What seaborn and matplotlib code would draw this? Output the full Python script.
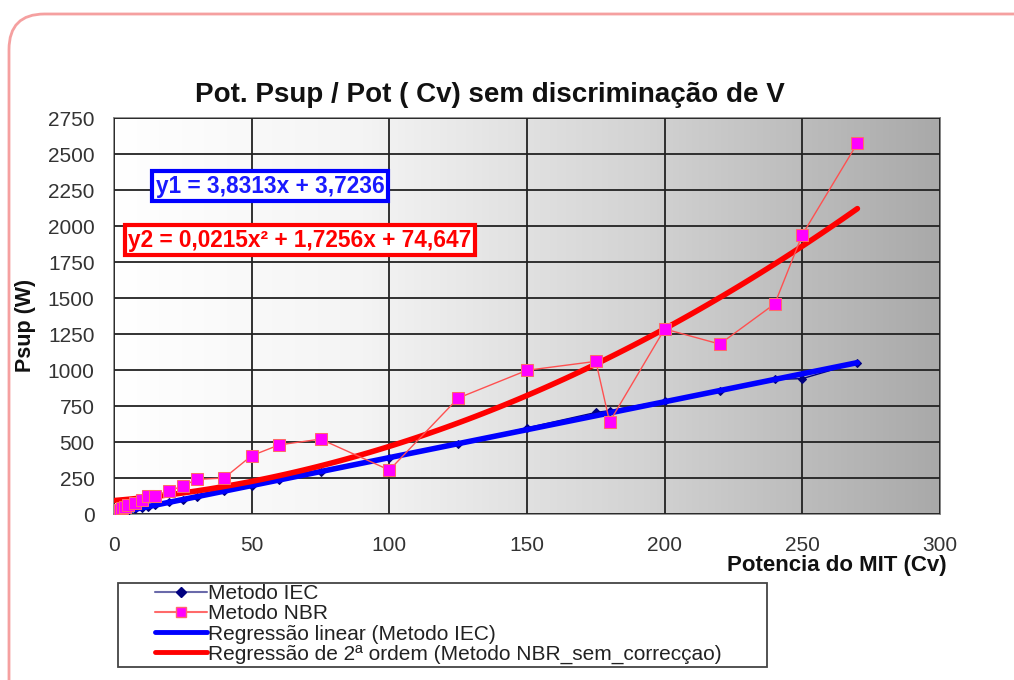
import numpy as np
import pandas as pd
import matplotlib
matplotlib.use("Agg")
import matplotlib.pyplot as plt
from matplotlib import colors
from matplotlib.lines import Line2D
from matplotlib.patches import FancyBboxPatch, Rectangle
import seaborn as sns

sns.set_style("white")
plt.rcParams["font.family"] = ["Liberation Sans", "DejaVu Sans"]

TITLE = "Pot. Psup / Pot ( Cv) sem discriminação de V"
X_LABEL = "Potencia do MIT (Cv)"
Y_LABEL = "Psup (W)"
EQ_IEC = "y1 = 3,8313x + 3,7236"
EQ_NBR = "y2 = 0,0215x² + 1,7256x + 74,647"

# potencia do motor (Cv)
potencia = [0.5, 1, 1.5, 2, 3, 4, 5, 7.5, 10, 12.5, 15, 20, 25, 30, 40, 50, 60, 75,
            100, 125, 150, 175, 180, 200, 220, 240, 250, 270]
# Psup (W) pelo metodo IEC
psup_iec = [5, 7, 9, 11, 15, 19, 23, 32, 42, 52, 61, 80, 99, 118, 157, 195, 233, 290,
            392, 487, 598, 705, 718, 787, 852, 935, 940, 1052]
# Psup (W) pelo metodo NBR
psup_nbr = [10, 18, 25, 30, 40, 50, 60, 75, 95, 128, 128, 160, 195, 240, 250, 405, 480, 520,
            305, 805, 998, 1060, 640, 1285, 1180, 1460, 1940, 2575]

X_TICKS = [0, 50, 100, 150, 200, 250, 300]
Y_TICKS = list(range(0, 2751, 250))

LEGEND_LABELS = [
    "Metodo IEC",
    "Metodo NBR",
    "Regressão linear (Metodo IEC)",
    "Regressão de 2ª ordem (Metodo NBR_sem_correcçao)",
]

df = pd.DataFrame({"potencia": potencia, "iec": psup_iec, "nbr": psup_nbr})

W, H = 1014, 680
fig = plt.figure(figsize=(W / 100, H / 100), dpi=100)
fig.patch.set_facecolor("white")

# rounded pink frame round the chart
fig.patches.append(FancyBboxPatch(
    (9 / W, -0.2), 1.2, 1 - 14 / H + 0.2, boxstyle="round,pad=0,rounding_size=0.035",
    transform=fig.transFigure, fc="white", ec="#f5a0a0", lw=2, zorder=-5,
    mutation_aspect=W / H
))

ax = fig.add_axes([114 / W, 1 - 514 / H, (940 - 114) / W, (514 - 118) / H])

# grey gradient background
grad = np.linspace(0, 1, 256)[None, :]
bg_cmap = colors.LinearSegmentedColormap.from_list(
    "bg", [(0, "#ffffff"), (0.3, "#f4f4f4"), (0.65, "#d2d2d2"), (1, "#a9a9a9")]
)
ax.imshow(grad, extent=[0, 300, 0, 2750], aspect="auto", cmap=bg_cmap, zorder=0)

ax.set_xticks(X_TICKS)
ax.set_yticks(Y_TICKS)
ax.grid(True, color="#222222", lw=1.3, zorder=1)
ax.set_axisbelow(False)
for sp in ax.spines.values():
    sp.set_color("#808080")
    sp.set_linewidth(1.2)
ax.tick_params(axis="both", direction="out", length=5, width=1.2, color="#555555",
               labelsize=15, labelcolor="#333333")
ax.tick_params(axis="x", pad=11)
ax.tick_params(axis="y", pad=9)

# raw data
sns.lineplot(data=df, x="potencia", y="iec", ax=ax, color="#000080", lw=1,
             marker="D", markersize=4, markeredgecolor="#000080", zorder=3)
sns.lineplot(data=df, x="potencia", y="nbr", ax=ax, color="#ff5050", lw=1,
             marker="s", markersize=8, markerfacecolor="#ff00ff",
             markeredgecolor="#ff6a6a", zorder=5)

# trendlines
sns.regplot(data=df, x="potencia", y="iec", ax=ax, order=1, ci=None, scatter=False,
            line_kws={"color": "#0000ff", "lw": 4, "zorder": 4})
sns.regplot(data=df, x="potencia", y="nbr", ax=ax, order=2, ci=None, scatter=False,
            line_kws={"color": "#ff0000", "lw": 4, "zorder": 4})

ax.set_xlim(0, 300)
ax.set_ylim(0, 2750)
ax.set_xlabel("")
ax.set_ylabel("")

fig.text(490 / W, 1 - 95 / H, TITLE, ha="center", va="center",
         fontsize=20, fontweight="bold", color="#111111")
fig.text(947 / W, 1 - 566 / H, X_LABEL, ha="right", va="center",
         fontsize=16, fontweight="bold", color="#111111")
fig.text(25 / W, 1 - 325 / H, Y_LABEL, ha="center", va="center", rotation=90,
         fontsize=15.5, fontweight="bold", color="#111111")

# equation boxes
fig.text(270 / W, 1 - 186 / H, EQ_IEC, ha="center", va="center", fontsize=16.3,
         fontweight="bold", color="#1a1aff",
         bbox={"boxstyle": "square,pad=0.14", "fc": "white", "ec": "#0000ff", "lw": 3})
fig.text(300 / W, 1 - 240 / H, EQ_NBR, ha="center", va="center", fontsize=16.3,
         fontweight="bold", color="#ff0000",
         bbox={"boxstyle": "square,pad=0.14", "fc": "white", "ec": "#ff0000", "lw": 3})

# legend box
fig.patches.append(Rectangle(
    (118 / W, 1 - 667 / H), (767 - 118) / W, (667 - 583) / H,
    transform=fig.transFigure, fc="white", ec="#444444", lw=1.3
))
handles = [
    Line2D([], [], color="#6a6aaa", lw=1.5, marker="D", markersize=5,
           markerfacecolor="#000080", markeredgecolor="#000080"),
    Line2D([], [], color="#ff6a6a", lw=1.5, marker="s", markersize=7,
           markerfacecolor="#ff00ff", markeredgecolor="#ff6a6a"),
    Line2D([], [], color="#0000ff", lw=3.5),
    Line2D([], [], color="#ff0000", lw=3.5),
]
fig.legend(handles, LEGEND_LABELS, loc="upper left",
           bbox_to_anchor=(155 / W, 1 - 584 / H), frameon=False,
           fontsize=15, handlelength=2.5, handletextpad=0.05,
           labelspacing=0.06, borderpad=0.0, borderaxespad=0.0, labelcolor="#222222")

fig.savefig("out.png", dpi=100)
